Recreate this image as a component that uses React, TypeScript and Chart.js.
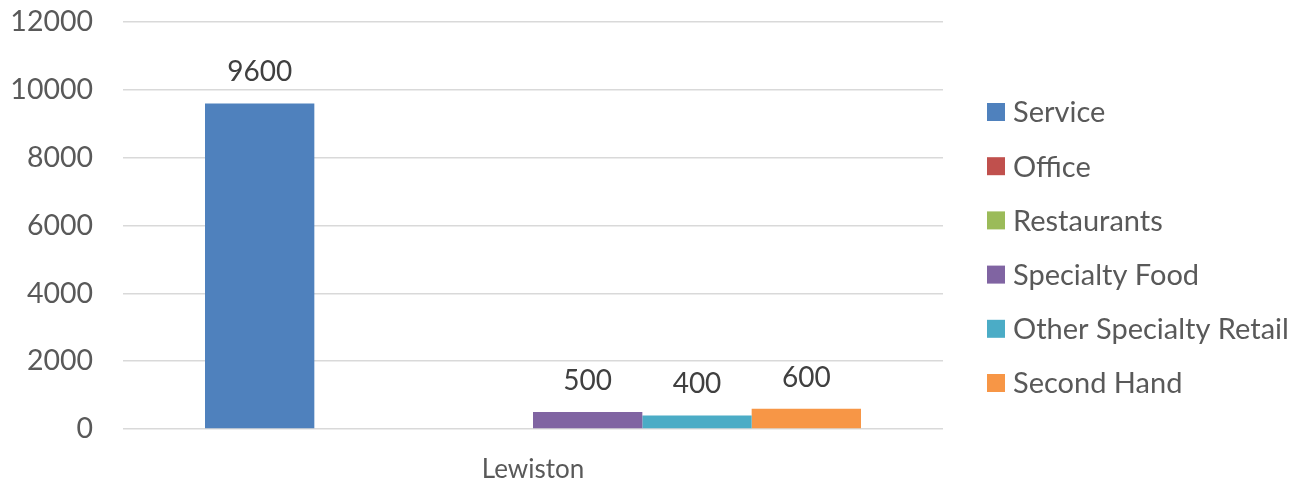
import React, { useEffect, useRef } from "react";
import { Chart, registerables } from "chart.js";

Chart.register(...registerables);

const categories = ["Lewiston"];
const seriesNames = ["Service", "Office", "Restaurants", "Specialty Food", "Other Specialty Retail", "Second Hand"];
const seriesValues: (number | null)[][] = [[9600], [null], [null], [500], [400], [600]];
const seriesColors = ["#4F81BD", "#C0504D", "#9BBB59", "#8064A2", "#4BACC6", "#F79646"];
const yTicks = [0, 2000, 4000, 6000, 8000, 10000, 12000];

const FONT = "Lato";

const valueLabels = {
  id: "valueLabels",
  afterDatasetsDraw(chart: any) {
    const ctx = chart.ctx;
    ctx.save();
    ctx.font = `28px ${FONT}`;
    ctx.fillStyle = "#404040";
    ctx.textAlign = "center";
    ctx.textBaseline = "middle";
    chart.data.datasets.forEach((ds: any, i: number) => {
      const meta = chart.getDatasetMeta(i);
      meta.data.forEach((bar: any, j: number) => {
        const v = ds.data[j];
        if (v === null || v === undefined || v === 0) return;
        ctx.fillText(String(v), bar.x, bar.y - 31);
      });
    });
    ctx.restore();
  },
};

// Legend drawn at the right of the plot area (space reserved by layout padding)
const sideLegend = {
  id: "sideLegend",
  afterDraw(chart: any) {
    const ctx = chart.ctx;
    const ds = chart.data.datasets;
    const box = 18;
    const step = 54.2;
    const boxX = chart.chartArea.right + 44;
    const textX = boxX + box + 8;
    const centerY = chart.height / 2 + 6;
    const startY = centerY - ((ds.length - 1) * step) / 2;
    ctx.save();
    ctx.font = `29px ${FONT}`;
    ctx.textAlign = "left";
    ctx.textBaseline = "middle";
    ds.forEach((d: any, i: number) => {
      const y = startY + i * step;
      ctx.fillStyle = d.backgroundColor;
      ctx.fillRect(boxX, y - box / 2, box, box);
      ctx.fillStyle = "#595959";
      ctx.fillText(d.label, textX, y + 1);
    });
    ctx.restore();
  },
};

export default function App() {
  const ref = useRef<HTMLCanvasElement | null>(null);
  useEffect(() => {
    document.body.style.margin = "0";
    const chart = new Chart(ref.current as HTMLCanvasElement, {
      type: "bar",
      data: {
        labels: categories,
        datasets: seriesNames.map((name, i) => ({
          label: name,
          data: seriesValues[i],
          backgroundColor: seriesColors[i],
          borderWidth: 0,
          categoryPercentage: 0.8,
          barPercentage: 1.0,
        })),
      },
      options: {
        animation: false,
        responsive: false,
        maintainAspectRatio: false,
        layout: { padding: { top: 0, right: 353, left: 0, bottom: 0 } },
        plugins: {
          legend: { display: false },
          tooltip: { enabled: false },
        },
        scales: {
          x: {
            grid: { display: false },
            border: { display: false },
            ticks: { color: "#595959", font: { family: FONT, size: 26 }, padding: 17 },
            afterFit: (s: any) => {
              s.height = 54;
              s.paddingLeft = 0;
              s.paddingRight = 0;
            },
          },
          y: {
            min: 0,
            max: 12000,
            afterBuildTicks: (s: any) => { s.ticks = yTicks.map((v) => ({ value: v })); },
            grid: { color: "#D9D9D9", lineWidth: 1.5, drawTicks: false },
            border: { display: false },
            ticks: {
              color: "#595959",
              font: { family: FONT, size: 28.5 },
              padding: 30,
              callback: (v: any) => String(v),
            },
            afterFit: (s: any) => {
              s.width = 123;
              s.paddingTop = 22;
              s.paddingBottom = 0;
            },
          },
        },
      },
      plugins: [valueLabels, sideLegend],
    });
    return () => chart.destroy();
  }, []);
  return (
    <div style={{ position: "absolute", left: 0, top: 0, width: 1296, height: 483 }}>
      <canvas ref={ref} width={1296} height={483} style={{ width: 1296, height: 483 }} />
    </div>
  );
}
